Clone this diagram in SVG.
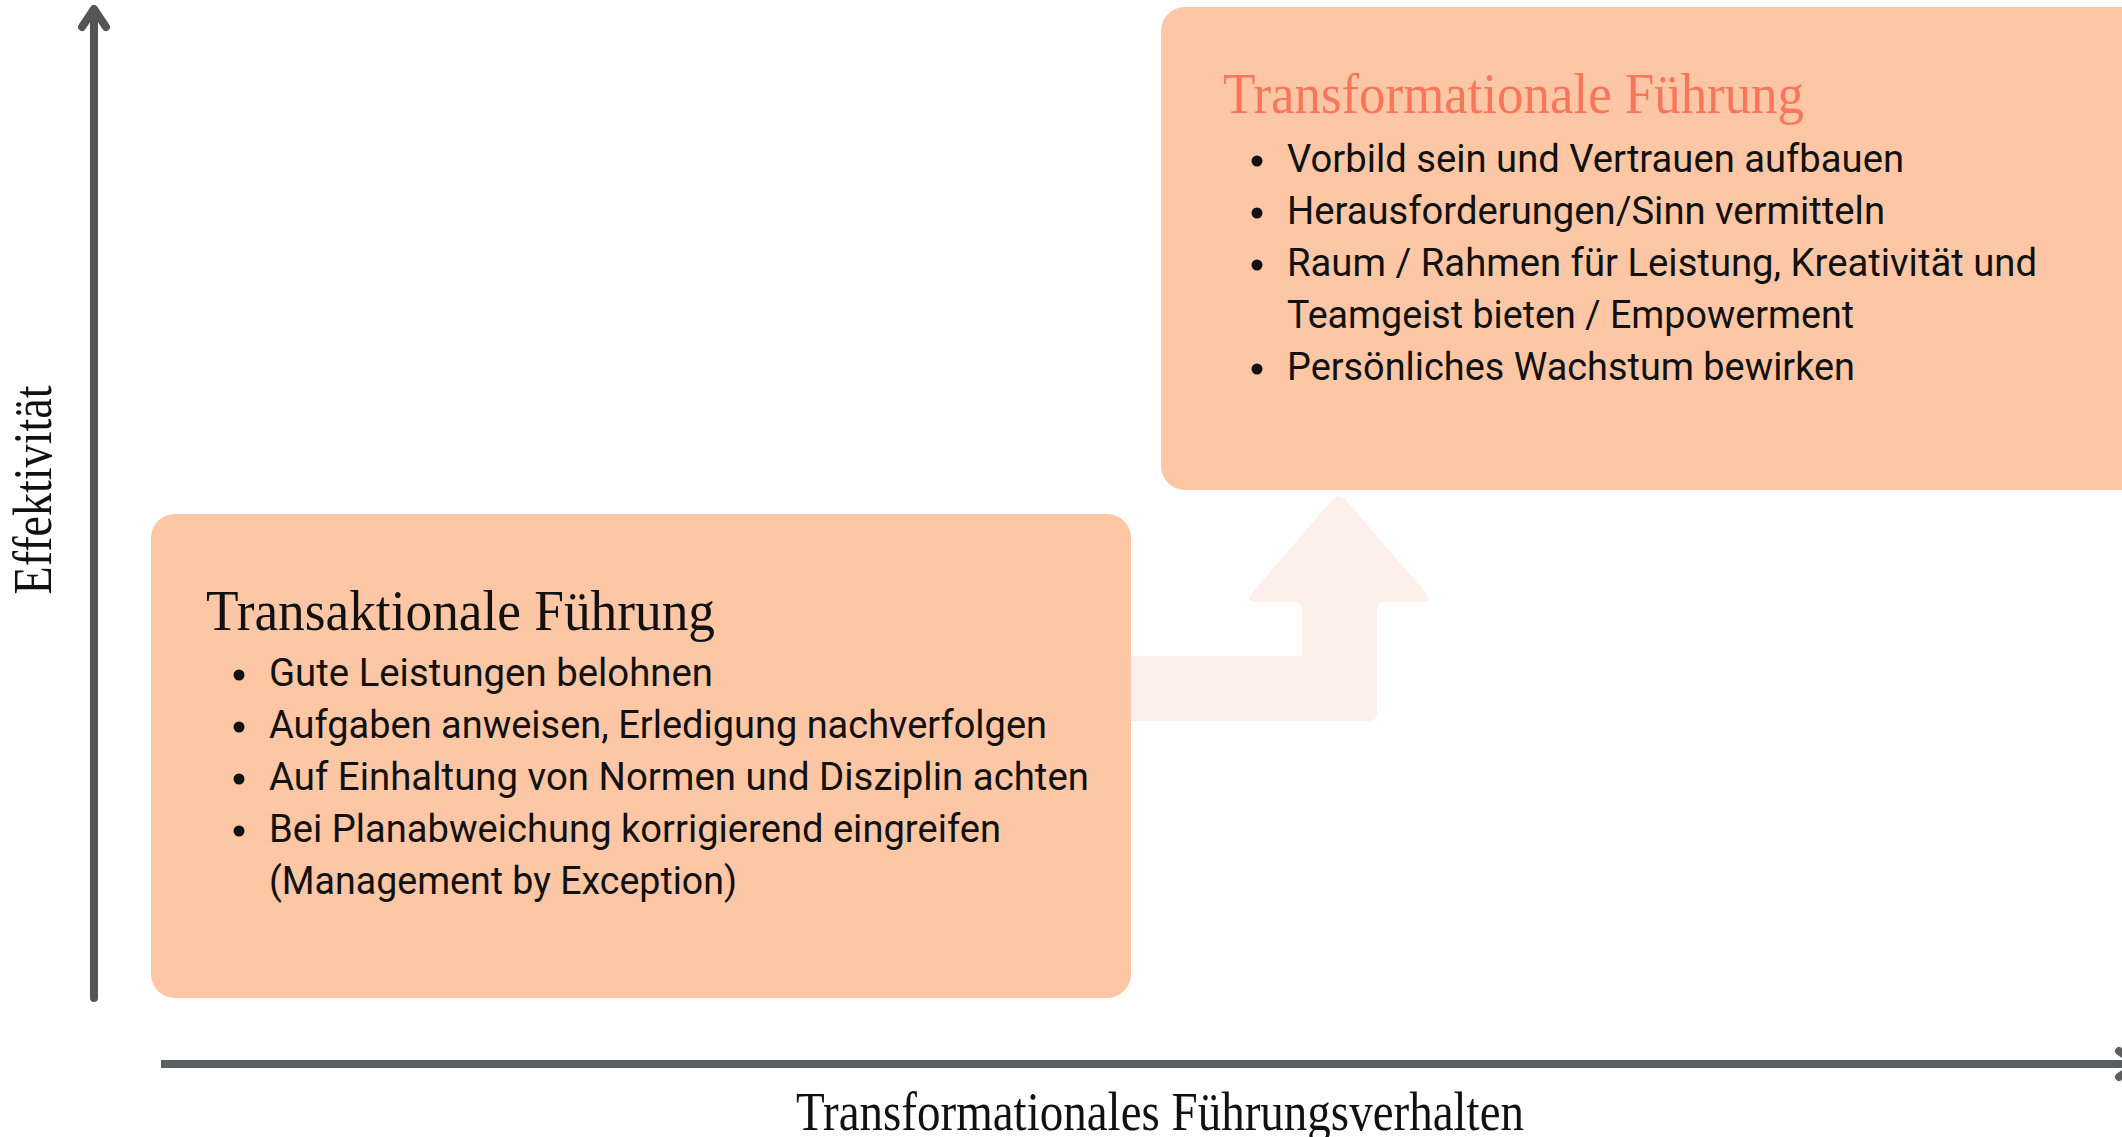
<svg xmlns="http://www.w3.org/2000/svg" width="2122" height="1137" viewBox="0 0 2122 1137">
<style>
.box{fill:#fdc7a5}
.ttl{font-family:"Liberation Serif","Times New Roman",serif;font-size:56px}
.b{font-family:Roboto,"Liberation Sans",sans-serif;font-size:38px;fill:#111}
.dot{fill:#111}
.ax{font-family:"Liberation Serif","Times New Roman",serif;font-size:54px;fill:#111}
</style>
<rect width="2122" height="1137" fill="#ffffff"/>
<g id="connectors">
<path id="step-arrow" fill="#fdf0eb" d="M1120 656 H1302 V610 Q1302 602 1294 602 H1256 Q1245 602 1252 593 L1333 499 Q1339 493 1345 499 L1426 593 Q1433 602 1422 602 H1385 Q1377 602 1377 610 V713 Q1377 721 1369 721 H1120 Z"/>
<g id="y-axis" stroke="#555555" stroke-width="8" stroke-linecap="round" stroke-linejoin="round" fill="none">
<line x1="94" y1="998" x2="94" y2="10"/>
<polyline points="82,27 94,9 106,27"/>
</g>
<g id="x-axis" stroke="#5b5f62" stroke-width="8" stroke-linecap="round" stroke-linejoin="round" fill="none">
<line x1="161" y1="1064" x2="2136" y2="1064" stroke-linecap="butt"/>
<polyline points="2119,1051 2137,1064 2119,1077"/>
</g>
</g>
<g id="node-transaktional">
<rect class="box" x="151" y="514" width="980" height="484" rx="24"/>
<text class="ttl" x="206" y="630" fill="#111" textLength="509" lengthAdjust="spacingAndGlyphs">Transaktionale Führung</text>
<circle class="dot" cx="239" cy="675" r="5.5"/>
<text class="b" x="269" y="686" textLength="444" lengthAdjust="spacingAndGlyphs">Gute Leistungen belohnen</text>
<circle class="dot" cx="239" cy="727" r="5.5"/>
<text class="b" x="269" y="738" textLength="778" lengthAdjust="spacingAndGlyphs">Aufgaben anweisen, Erledigung nachverfolgen</text>
<circle class="dot" cx="239" cy="779" r="5.5"/>
<text class="b" x="269" y="790" textLength="820" lengthAdjust="spacingAndGlyphs">Auf Einhaltung von Normen und Disziplin achten</text>
<circle class="dot" cx="239" cy="831" r="5.5"/>
<text class="b" x="269" y="842" textLength="732" lengthAdjust="spacingAndGlyphs">Bei Planabweichung korrigierend eingreifen</text>
<text class="b" x="269" y="894" textLength="468" lengthAdjust="spacingAndGlyphs">(Management by Exception)</text>
</g>
<g id="node-transformational">
<rect class="box" x="1161" y="7" width="1000" height="483" rx="24"/>
<text class="ttl" x="1223" y="113" fill="#f7765c" textLength="581" lengthAdjust="spacingAndGlyphs">Transformationale Führung</text>
<circle class="dot" cx="1257" cy="161" r="5.5"/>
<text class="b" x="1287" y="172" textLength="617" lengthAdjust="spacingAndGlyphs">Vorbild sein und Vertrauen aufbauen</text>
<circle class="dot" cx="1257" cy="213" r="5.5"/>
<text class="b" x="1287" y="224" textLength="598" lengthAdjust="spacingAndGlyphs">Herausforderungen/Sinn vermitteln</text>
<circle class="dot" cx="1257" cy="265" r="5.5"/>
<text class="b" x="1287" y="276" textLength="750" lengthAdjust="spacingAndGlyphs">Raum / Rahmen für Leistung, Kreativität und</text>
<text class="b" x="1287" y="328" textLength="567" lengthAdjust="spacingAndGlyphs">Teamgeist bieten / Empowerment</text>
<circle class="dot" cx="1257" cy="369" r="5.5"/>
<text class="b" x="1287" y="380" textLength="568" lengthAdjust="spacingAndGlyphs">Persönliches Wachstum bewirken</text>
</g>
<g id="axis-labels">
<text class="ax" transform="translate(51,490) rotate(-90)" text-anchor="middle" textLength="209" lengthAdjust="spacingAndGlyphs">Effektivität</text>
<text class="ax" x="1160" y="1130" text-anchor="middle" textLength="728" lengthAdjust="spacingAndGlyphs">Transformationales Führungsverhalten</text>
</g>
</svg>
